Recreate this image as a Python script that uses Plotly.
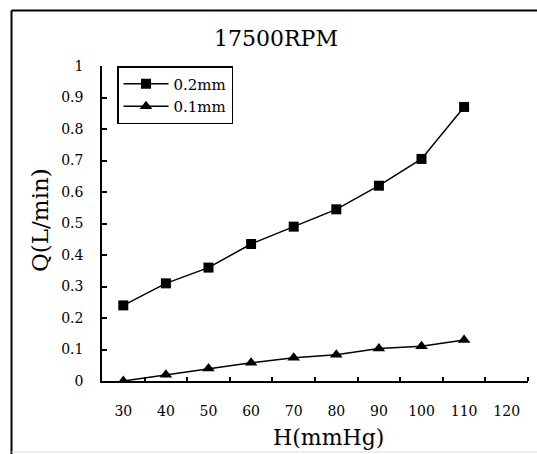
import plotly.graph_objects as go

pressure = [30, 40, 50, 60, 70, 80, 90, 100, 110]
flow_02mm = [0.24, 0.31, 0.36, 0.435, 0.49, 0.545, 0.62, 0.705, 0.87]
flow_01mm = [0.0, 0.02, 0.04, 0.058, 0.074, 0.083, 0.103, 0.11, 0.13]
x_tick_vals = [30, 40, 50, 60, 70, 80, 90, 100, 110, 120]
x_tick_text = ["30", "40", "50", "60", "70", "80", "90", "100", "110", "120"]
x_minor_ticks = [35, 45, 55, 65, 75, 85, 95, 105, 115, 125]
y_tick_vals = [0, 0.1, 0.2, 0.3, 0.4, 0.5, 0.6, 0.7, 0.8, 0.9, 1.0]
y_tick_text = ["0", "0.1", "0.2", "0.3", "0.4", "0.5", "0.6", "0.7", "0.8", "0.9", "1"]

FONT = "DejaVu Serif"
W, H = 537, 454
L, R, T, B = 102, 9, 66, 73
pw, ph = W - L - R, H - T - B

def px_x(px):
    return (px - L) / pw

def px_y(py):
    return (H - B - py) / ph

fig = go.Figure()
fig.add_trace(go.Scatter(
    x=pressure, y=flow_02mm, name="0.2mm", mode="lines+markers",
    line=dict(color="black", width=1.5),
    marker=dict(symbol="square", size=10, color="black"),
))
fig.add_trace(go.Scatter(
    x=pressure, y=flow_01mm, name="0.1mm", mode="lines+markers",
    line=dict(color="black", width=1.5),
    marker=dict(symbol="triangle-up", size=11, color="black"),
))

fig.update_layout(
    width=W, height=H,
    margin=dict(l=L, r=R, t=T, b=B, autoexpand=False),
    paper_bgcolor="white", plot_bgcolor="white",
    font=dict(family=FONT, color="black"),
    title=dict(text="17500RPM", font=dict(family=FONT, size=22, color="black"),
               xref="paper", x=px_x(276), xanchor="center",
               yref="container", y=1 - 38 / H, yanchor="middle"),
    showlegend=True,
    legend=dict(x=px_x(117), y=px_y(66), xanchor="left", yanchor="top",
                bordercolor="black", borderwidth=1.5, bgcolor="white",
                font=dict(family=FONT, size=15, color="black"),
                tracegroupgap=0, itemwidth=45),
    xaxis=dict(range=[25, 125], tickvals=x_tick_vals, ticktext=x_tick_text,
               ticks="", showline=True, linecolor="black", linewidth=1.5,
               showgrid=False, zeroline=False, automargin=False,
               tickfont=dict(family=FONT, size=14, color="black"),
               ticklabelstandoff=16,
               minor=dict(tickvals=x_minor_ticks, ticks="inside", ticklen=4,
                          tickcolor="black", tickwidth=1.5, showgrid=False)),
    yaxis=dict(range=[0, 1], tickvals=y_tick_vals, ticktext=y_tick_text,
               ticks="inside", ticklen=5, tickcolor="black", tickwidth=1.5,
               showline=True, linecolor="black", linewidth=1.5,
               showgrid=False, zeroline=False, automargin=False,
               tickfont=dict(family=FONT, size=14, color="black"),
               ticklabelstandoff=14),
    annotations=[
        dict(text="H(mmHg)", xref="paper", yref="paper", x=px_x(328), y=px_y(437),
             xanchor="center", yanchor="middle", showarrow=False,
             font=dict(family=FONT, size=22, color="black")),
        dict(text="Q(L/min)", xref="paper", yref="paper", x=px_x(40), y=px_y(220),
             xanchor="center", yanchor="middle", showarrow=False, textangle=-90,
             font=dict(family=FONT, size=23, color="black")),
    ],
    shapes=[
        dict(type="line", xref="paper", yref="paper", x0=px_x(11.5), x1=px_x(540),
             y0=px_y(10.5), y1=px_y(10.5), line=dict(color="black", width=2)),
        dict(type="line", xref="paper", yref="paper", x0=px_x(11.5), x1=px_x(11.5),
             y0=px_y(10.5), y1=px_y(460), line=dict(color="black", width=2)),
        dict(type="line", xref="paper", yref="paper", x0=px_x(11.5), x1=px_x(540),
             y0=px_y(452), y1=px_y(452), line=dict(color="#dddddd", width=1)),
    ],
)

fig.write_html("out.html", config={"displayModeBar": False},
               post_script="document.body.style.margin='0';document.body.style.padding='0';")
